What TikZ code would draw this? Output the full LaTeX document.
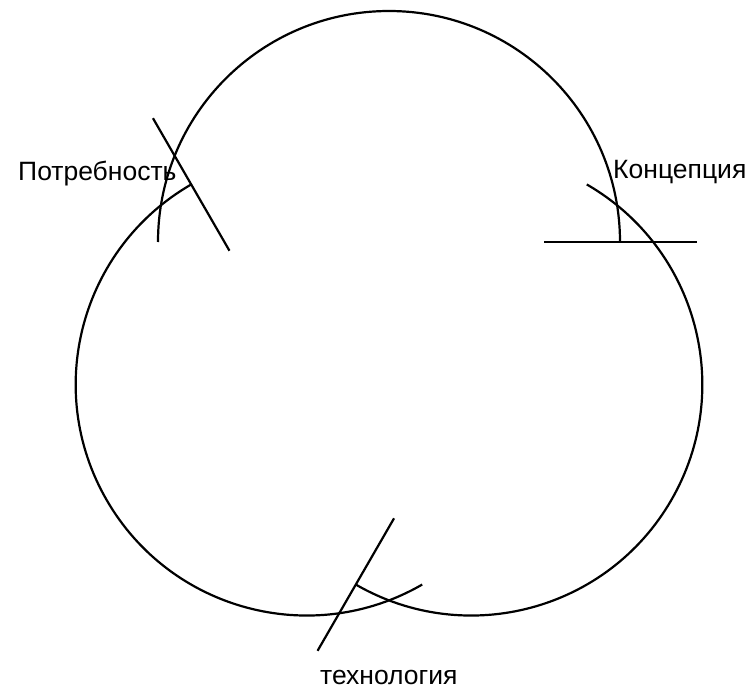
\documentclass[tikz,border=0pt]{standalone}
\usepackage{fontspec}
\setmainfont{Liberation Sans}
\usetikzlibrary{calc}
\begin{document}
\begin{tikzpicture}[x=1pt,y=-1pt,
  ln/.style={line width=2.2pt, black},
  lbl/.style={inner sep=0pt, anchor=base west, text depth=0pt, font=\fontsize{26.5}{30}\selectfont}]
\useasboundingbox (0,0) rectangle (750,688);
% circle centres
\coordinate (ct) at (389,242);
\coordinate (cr) at (471.3,384.5);
\coordinate (cl) at (306.7,384.5);
% arc end points carrying the cross lines
\coordinate (e1) at ($(ct)+(0:231)$);
\coordinate (e2) at ($(cr)+(120:231)$);
\coordinate (e3) at ($(cl)+(240:231)$);
% arcs
\draw[ln] ($(ct)+(180:231)$) arc[start angle=180, end angle=360, radius=231];
\draw[ln] ($(cr)+(-60:231)$) arc[start angle=-60, end angle=120, radius=231];
\draw[ln] (e3) arc[start angle=240, end angle=60, radius=231];
% cross lines
\draw[ln] ($(e1)+(0:76.5)$) -- ($(e1)+(180:76.5)$);
\draw[ln] ($(e2)+(120:76.5)$) -- ($(e2)+(300:76.5)$);
\draw[ln] ($(e3)+(240:76.5)$) -- ($(e3)+(60:76.5)$);
% labels
\node[lbl] (np) at (18,180) {Потребность};
\node[lbl] (nk) at (613,178) {Концепция};
\node[lbl] (nt) at (320,684) {технология};
\end{tikzpicture}
\end{document}
